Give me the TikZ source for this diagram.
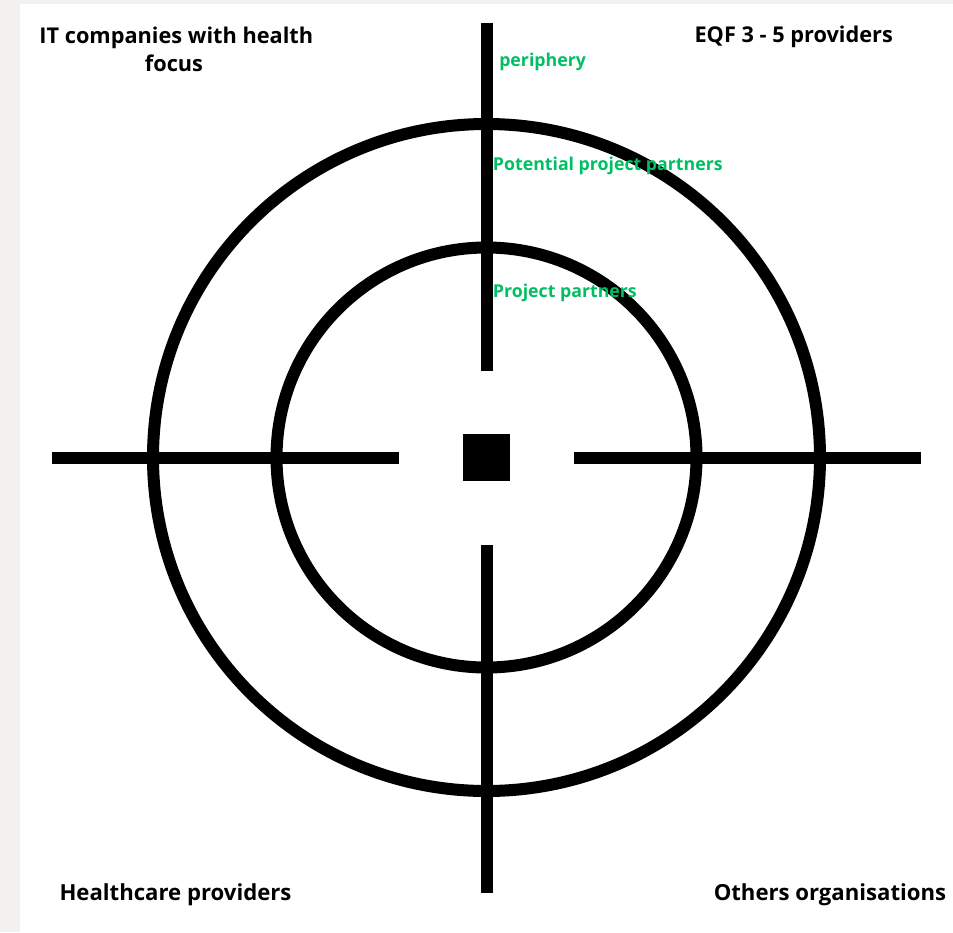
\documentclass[tikz,border=0pt]{standalone}
\usepackage{fontspec}
\setmainfont{Open Sans}
\definecolor{bggray}{HTML}{F2F1EF}
\definecolor{lblgreen}{HTML}{00BF63}
\begin{document}
\begin{tikzpicture}[x=0.75pt,y=-0.75pt,
  ring/.style={draw=black,line width=9pt},
  bar/.style={draw=black,line width=9pt},
  blk/.style={font=\bfseries\fontsize{16.3}{21}\selectfont,text=black,inner sep=0pt},
  grn/.style={font=\bfseries\fontsize{13.3}{15}\selectfont,text=lblgreen,inner sep=0pt},
  btm/.style={font=\bfseries\fontsize{16.6}{21}\selectfont,text=black,inner sep=0pt}]
\useasboundingbox (0,0) rectangle (953,932);
\fill[bggray] (0,0) rectangle (953,932);
\fill[white] (20,4) rectangle (953,932);
% centre
\coordinate (c) at (486.5,457.5);
\draw[ring] (c) circle[radius=333.5];
\draw[ring] (c) circle[radius=210];
% bars
\coordinate (ntop) at (486.5,22.5);
\coordinate (nbot) at (486.5,370.5);
\coordinate (stop) at (486.5,545);
\coordinate (sbot) at (486.5,893);
\coordinate (wl) at (52,457.5);
\coordinate (wr) at (399,457.5);
\coordinate (el) at (574,457.5);
\coordinate (er) at (921,457.5);
\draw[bar] (ntop) -- (nbot);
\draw[bar] (stop) -- (sbot);
\draw[bar] (wl) -- (wr);
\draw[bar] (el) -- (er);
\node[fill=black,minimum size=35.25pt,inner sep=0pt] (sq) at (486.5,457.75) {};
% labels
\node[blk,anchor=base] (it) at (176.3,43.3) {IT companies with health};
\node[blk,anchor=base] (itf) at (174,71.7) {focus};
\node[blk,anchor=base west] (eqf) at (694.3,42.3) {EQF 3 - 5 providers};
\node[btm,anchor=base west] (hc) at (59.3,900.7) {Healthcare providers};
\node[btm,anchor=base west] (oo) at (713.5,900.7) {Others organisations};
\node[grn,anchor=base west] (per) at (499,66.7) {periphery};
\node[grn,anchor=base west] (ppp) at (492.7,170.7) {Potential project partners};
\node[grn,anchor=base west] (pp) at (492.7,297) {Project partners};
\end{tikzpicture}
\end{document}
